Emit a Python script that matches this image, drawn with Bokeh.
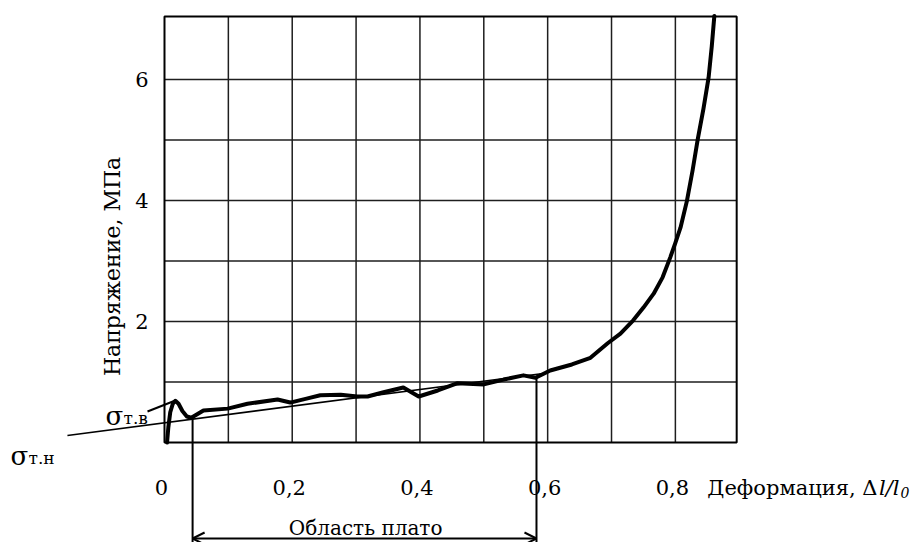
import math
from bokeh.plotting import figure
from bokeh.models import Range1d, Arrow, OpenHead
from bokeh.core.properties import value
from bokeh.embed import file_html
from bokeh.resources import INLINE

# ---------------- data ----------------
strain = [0.004, 0.006, 0.009, 0.013, 0.017, 0.022, 0.028, 0.035, 0.042,
          0.061, 0.099, 0.130, 0.177, 0.197, 0.224, 0.244, 0.276, 0.302,
          0.318, 0.343, 0.374, 0.398, 0.428, 0.459, 0.500, 0.531, 0.562,
          0.581, 0.604, 0.638, 0.667, 0.694, 0.714, 0.734, 0.750, 0.766,
          0.780, 0.792, 0.800, 0.808, 0.818, 0.827, 0.835, 0.844, 0.852,
          0.857, 0.861]
stress = [0.00, 0.25, 0.50, 0.64, 0.69, 0.64, 0.52, 0.43, 0.41,
          0.53, 0.56, 0.64, 0.71, 0.66, 0.73, 0.78, 0.79, 0.76,
          0.76, 0.83, 0.91, 0.76, 0.86, 0.98, 0.96, 1.04, 1.11,
          1.07, 1.19, 1.29, 1.40, 1.64, 1.80, 2.02, 2.23, 2.46,
          2.73, 3.06, 3.30, 3.55, 3.99, 4.50, 5.01, 5.52, 6.03,
          6.55, 7.05]

# plateau trend line (also the pointer of the lower yield point)
trend_x = [-0.152, 0.590]
trend_y = [0.116, 1.137]

upper_yield = (0.016, 0.69)      # sigma_t.v
lower_yield = (0.044, 0.41)      # sigma_t.n
plateau_start = 0.044
plateau_end = 0.5825
plateau_end_stress = 1.09

x_ticks = [0.0, 0.2, 0.4, 0.6, 0.8]
x_tick_labels = ["0", "0,2", "0,4", "0,6", "0,8"]
y_ticks = [2, 4, 6]
y_tick_labels = ["2", "4", "6"]
x_grid = [0.1, 0.2, 0.3, 0.4, 0.5, 0.6, 0.7, 0.8]
y_grid = [1, 2, 3, 4, 5, 6]
x_max = 0.896
y_max = 7.04

SERIF = value("DejaVu Serif")

p = figure(width=913, height=542,
           x_range=Range1d(-0.25681, 1.17288), y_range=Range1d(-1.6529, 7.3058),
           output_backend="svg", toolbar_location=None,
           x_axis_type=None, y_axis_type=None, min_border=0)
p.outline_line_color = None
p.background_fill_color = "white"
p.border_fill_color = "white"

# grid
p.segment(x0=x_grid, y0=0, x1=x_grid, y1=y_max, line_color="#1e1e1e", line_width=1.5)
p.segment(x0=0, y0=y_grid, x1=x_max, y1=y_grid, line_color="#1e1e1e", line_width=1.5)

# frame
p.quad(left=0, right=x_max, bottom=0, top=y_max, fill_color=None,
       line_color="black", line_width=2)

# trend line & curve
p.line(trend_x, trend_y, line_color="black", line_width=1.6)
p.line(strain, stress, line_color="black", line_width=4, line_join="round", line_cap="round")

# sigma_t.v pointer
p.line([-0.0266, upper_yield[0]], [0.512, upper_yield[1]], line_color="black", line_width=2)

# plateau bracket
p.segment(x0=[plateau_start, plateau_end], y0=[lower_yield[1], plateau_end_stress],
          x1=[plateau_start, plateau_end], y1=-1.66, line_color="black", line_width=2)
p.add_layout(Arrow(x_start=plateau_start, y_start=-1.587, x_end=plateau_end, y_end=-1.587,
                   line_width=2, line_color="black",
                   start=OpenHead(size=12, line_width=2, line_color="black"),
                   end=OpenHead(size=12, line_width=2, line_color="black")))
p.text(x=[0.315], y=[-1.421], text=["Область плато"], text_font=SERIF,
       text_font_size="20px", text_align="center", text_baseline="alphabetic",
       text_color="black")

# tick labels
p.text(x=x_ticks, y=-0.744, text=x_tick_labels, text_font=SERIF, text_font_size="21px",
       text_align="center", text_baseline="alphabetic", text_color="black", x_offset=-3)
p.text(x=-0.025, y=y_ticks, text=y_tick_labels, text_font=SERIF, text_font_size="21px",
       text_align="right", text_baseline="middle", text_color="black")

# axis titles
p.text(x=[-0.0814], y=[2.91], text=["Напряжение, МПа"], text_font=SERIF,
       text_font_size="22px", text_align="center", text_baseline="middle",
       angle=math.pi / 2, text_color="black")
p.text(x=[1.1165], y=[-0.744], text=["Деформация, Δ"], text_font=SERIF,
       text_font_size="21px", text_align="right", text_baseline="alphabetic", text_color="black")
p.text(x=[1.1509], y=[-0.744], text=["l/l"], text_font=SERIF, text_font_style="italic",
       text_font_size="21px", text_align="right", text_baseline="alphabetic", text_color="black")
p.text(x=[1.1525], y=[-0.826], text=["0"], text_font=SERIF, text_font_style="italic",
       text_font_size="14px", text_align="left", text_baseline="alphabetic", text_color="black")

# sigma labels
p.text(x=[-0.0924], y=[0.446], text=["σ"], text_font=SERIF, text_font_size="26px",
       text_align="left", text_baseline="alphabetic", text_color="black")
p.text(x=[-0.0642], y=[0.397], text=["т.в"], text_font=SERIF, text_font_size="17px",
       text_align="left", text_baseline="alphabetic", text_color="black")
p.text(x=[-0.2412], y=[-0.215], text=["σ"], text_font=SERIF, text_font_size="26px",
       text_align="left", text_baseline="alphabetic", text_color="black")
p.text(x=[-0.213], y=[-0.264], text=["т.н"], text_font=SERIF, text_font_size="17px",
       text_align="left", text_baseline="alphabetic", text_color="black")

open("out.html", "w").write(file_html(p, INLINE))
